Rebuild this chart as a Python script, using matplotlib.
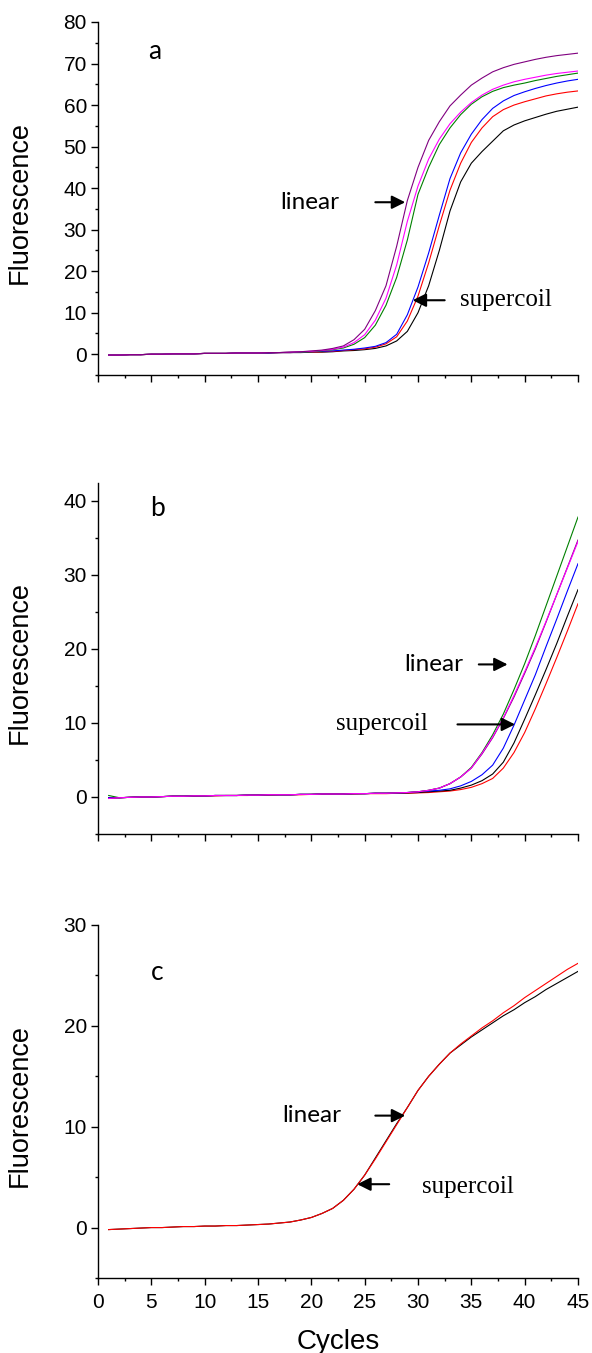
import numpy as np
import matplotlib.pyplot as plt
from matplotlib.ticker import MultipleLocator

plt.rcParams['font.family'] = ['Liberation Sans', 'DejaVu Sans']

cycles = np.arange(1, 46)

# panel a
a_purple = [-0.2, -0.2, -0.1, -0.1, 0.0, 0.0, 0.1, 0.1, 0.1, 0.2, 0.2, 0.2, 0.3, 0.3, 0.3,
            0.4, 0.4, 0.5, 0.6, 0.8, 1.0, 1.4, 2.0, 3.5, 6.0, 10.5, 16.5, 26.0, 37.0, 45.0,
            51.5, 56.0, 59.8, 62.4, 64.8, 66.5, 68.0, 69.0, 69.8, 70.4, 71.0, 71.5, 71.9, 72.2, 72.5]
a_magenta = [-0.2, -0.2, -0.1, -0.1, 0.0, 0.0, 0.1, 0.1, 0.1, 0.2, 0.2, 0.2, 0.3, 0.3, 0.3,
             0.4, 0.4, 0.5, 0.6, 0.7, 0.9, 1.2, 1.7, 2.8, 4.7, 8.2, 13.5, 21.5, 32.0, 40.5,
             47.0, 51.8, 55.5, 58.3, 60.6, 62.4, 63.8, 64.8, 65.6, 66.2, 66.7, 67.2, 67.6, 67.9, 68.2]
a_green = [-0.2, -0.2, -0.1, -0.1, 0.0, 0.0, 0.1, 0.1, 0.1, 0.2, 0.2, 0.2, 0.3, 0.3, 0.3,
           0.4, 0.4, 0.5, 0.5, 0.6, 0.8, 1.1, 1.5, 2.4, 4.0, 7.0, 11.8, 18.5, 27.5, 38.5,
           45.0, 50.5, 54.5, 57.7, 60.2, 62.0, 63.3, 64.2, 64.8, 65.3, 65.9, 66.4, 66.9, 67.3, 67.7]
a_blue = [-0.2, -0.2, -0.1, -0.1, 0.0, 0.0, 0.1, 0.1, 0.1, 0.2, 0.2, 0.2, 0.3, 0.3, 0.3,
          0.3, 0.4, 0.4, 0.5, 0.6, 0.7, 0.8, 1.0, 1.2, 1.5, 1.9, 2.8, 4.8, 9.5, 16.2,
          24.4, 33.5, 42.3, 48.5, 53.0, 56.5, 59.2, 61.0, 62.3, 63.2, 64.0, 64.7, 65.3, 65.8, 66.2]
a_red = [-0.2, -0.2, -0.1, -0.1, 0.0, 0.0, 0.1, 0.1, 0.1, 0.2, 0.2, 0.2, 0.3, 0.3, 0.3,
         0.3, 0.4, 0.4, 0.5, 0.5, 0.6, 0.7, 0.9, 1.1, 1.3, 1.7, 2.5, 4.2, 8.0, 14.0,
         22.0, 31.0, 39.5, 46.0, 51.0, 54.5, 57.2, 58.9, 60.0, 60.8, 61.5, 62.2, 62.7, 63.1, 63.4]
a_black = [-0.2, -0.2, -0.1, -0.1, 0.0, 0.0, 0.1, 0.1, 0.1, 0.2, 0.2, 0.2, 0.3, 0.3, 0.3,
           0.3, 0.4, 0.4, 0.4, 0.5, 0.5, 0.6, 0.8, 0.9, 1.1, 1.4, 2.0, 3.2, 5.5, 10.0,
           16.5, 25.0, 34.5, 41.5, 46.0, 48.8, 51.3, 53.8, 55.2, 56.2, 57.0, 57.8, 58.5, 59.0, 59.5]

# panel b
b_green = [0.2, -0.1, -0.05, 0.0, 0.0, 0.05, 0.1, 0.1, 0.15, 0.15, 0.2, 0.2, 0.2, 0.25, 0.25,
           0.3, 0.3, 0.3, 0.35, 0.35, 0.4, 0.4, 0.4, 0.45, 0.45, 0.5, 0.5, 0.55, 0.6, 0.7,
           0.9, 1.2, 1.8, 2.7, 4.0, 6.0, 8.4, 11.2, 14.5, 18.0, 21.8, 25.8, 29.8, 33.8, 37.8]
b_purple = [-0.2, -0.1, -0.05, 0.0, 0.0, 0.05, 0.1, 0.1, 0.15, 0.15, 0.2, 0.2, 0.2, 0.25, 0.25,
            0.3, 0.3, 0.3, 0.35, 0.35, 0.4, 0.4, 0.4, 0.45, 0.45, 0.5, 0.5, 0.55, 0.6, 0.7,
            0.9, 1.2, 1.8, 2.7, 3.9, 5.8, 8.0, 10.6, 13.5, 16.7, 20.0, 23.6, 27.3, 31.0, 34.7]
b_magenta = [-0.2, -0.1, -0.05, 0.0, 0.0, 0.05, 0.1, 0.1, 0.15, 0.15, 0.2, 0.2, 0.2, 0.25, 0.25,
             0.3, 0.3, 0.3, 0.35, 0.35, 0.4, 0.4, 0.4, 0.45, 0.45, 0.5, 0.5, 0.55, 0.6, 0.7,
             0.9, 1.2, 1.8, 2.7, 3.9, 5.9, 8.1, 10.7, 13.7, 16.9, 20.2, 23.7, 27.3, 30.9, 34.5]
b_blue = [-0.1, -0.1, -0.05, 0.0, 0.0, 0.05, 0.1, 0.1, 0.15, 0.15, 0.2, 0.2, 0.2, 0.25, 0.25,
          0.3, 0.3, 0.3, 0.35, 0.35, 0.4, 0.4, 0.4, 0.45, 0.45, 0.5, 0.5, 0.55, 0.6, 0.7,
          0.8, 0.9, 1.1, 1.5, 2.1, 3.0, 4.3, 6.6, 9.7, 13.1, 16.5, 20.3, 24.0, 27.8, 31.5]
b_black = [-0.1, -0.1, -0.05, 0.0, 0.0, 0.05, 0.1, 0.1, 0.15, 0.15, 0.2, 0.2, 0.2, 0.25, 0.25,
           0.3, 0.3, 0.3, 0.35, 0.35, 0.4, 0.4, 0.4, 0.45, 0.45, 0.5, 0.5, 0.5, 0.55, 0.6,
           0.7, 0.8, 0.9, 1.2, 1.6, 2.2, 3.1, 4.7, 7.3, 10.5, 13.8, 17.2, 20.7, 24.4, 28.0]
b_red = [-0.1, -0.1, -0.05, 0.0, 0.0, 0.05, 0.1, 0.1, 0.1, 0.15, 0.15, 0.2, 0.2, 0.2, 0.25,
         0.25, 0.3, 0.3, 0.3, 0.35, 0.35, 0.4, 0.4, 0.4, 0.45, 0.45, 0.45, 0.5, 0.5, 0.55,
         0.6, 0.7, 0.8, 1.0, 1.3, 1.8, 2.5, 3.9, 6.0, 8.7, 11.9, 15.3, 18.8, 22.4, 26.1]

# panel c
c_black = [-0.2, -0.15, -0.1, -0.05, 0.0, 0.0, 0.05, 0.1, 0.1, 0.15, 0.15, 0.2, 0.2, 0.25, 0.3,
           0.35, 0.45, 0.55, 0.75, 1.0, 1.4, 1.9, 2.7, 3.8, 5.2, 6.9, 8.6, 10.3, 11.9, 13.6,
           15.0, 16.2, 17.3, 18.1, 18.9, 19.6, 20.3, 21.0, 21.6, 22.3, 22.9, 23.6, 24.2, 24.8, 25.4]
c_red = [-0.2, -0.15, -0.1, -0.05, 0.0, 0.0, 0.05, 0.1, 0.1, 0.15, 0.15, 0.2, 0.2, 0.25, 0.3,
         0.35, 0.45, 0.55, 0.75, 1.0, 1.4, 1.9, 2.7, 3.8, 5.2, 6.8, 8.5, 10.2, 11.9, 13.6,
         15.0, 16.2, 17.3, 18.2, 19.0, 19.8, 20.5, 21.3, 22.0, 22.8, 23.5, 24.2, 24.9, 25.6, 26.2]

panels = [
    {
        "letter": "a", "ylim": (-5, 80), "letter_pos": (4.7, 72.8),
        "lines": [(a_black, "black"), (a_red, "red"), (a_blue, "blue"),
                  (a_green, "green"), (a_magenta, "magenta"), (a_purple, "purple")],
        "linear": (17.1, 36.6, 26.0, 28.8),
        "supercoil": (33.9, 13.0, 32.5, 29.5, 13.0),
    },
    {
        "letter": "b", "ylim": (-5, 42.4), "letter_pos": (4.9, 39.0),
        "lines": [(b_red, "red"), (b_black, "black"), (b_blue, "blue"),
                  (b_green, "green"), (b_purple, "purple"), (b_magenta, "magenta")],
        "linear": (28.7, 17.9, 35.7, 38.4),
        "supercoil": (22.3, 9.8, 33.7, 39.1, 9.8),
    },
    {
        "letter": "c", "ylim": (-5, 30), "letter_pos": (5.0, 25.3),
        "lines": [(c_black, "black"), (c_red, "red")],
        "linear": (17.3, 11.1, 26.0, 28.8),
        "supercoil": (30.4, 4.0, 27.3, 24.3, 4.3),
    },
]

fig = plt.figure(figsize=(5.92, 13.53), dpi=100)
W, H = 592, 1353
boxes = [(22, 375), (483, 834), (925, 1278)]

arrow_kw = dict(arrowstyle="-|>", color="black", lw=1.5, mutation_scale=20,
                shrinkA=0, shrinkB=0)

for i, (p, (top, bottom)) in enumerate(zip(panels, boxes)):
    ax = fig.add_axes([98 / W, 1 - bottom / H, 480 / W, (bottom - top) / H])
    for vals, col in p["lines"]:
        ax.plot(cycles, vals, color=col, lw=0.8)

    ax.set_xlim(0, 45)
    ax.set_ylim(*p["ylim"])
    ax.xaxis.set_major_locator(MultipleLocator(5))
    ax.xaxis.set_minor_locator(MultipleLocator(2.5))
    ax.yaxis.set_major_locator(MultipleLocator(10))
    ax.yaxis.set_minor_locator(MultipleLocator(5))
    ax.spines["top"].set_visible(False)
    ax.spines["right"].set_visible(False)
    for s in ("left", "bottom"):
        ax.spines[s].set_linewidth(1.0)
    ax.tick_params(which="major", direction="out", length=5, width=1, labelsize=15, pad=3)
    ax.tick_params(which="minor", direction="out", length=2.5, width=1)
    ax.tick_params(axis="x", which="major", pad=6)

    ax.set_ylabel("Fluorescence", fontsize=19.5)
    ax.yaxis.set_label_coords(-0.135, 0.49)

    if i < 2:
        ax.tick_params(axis="x", labelbottom=False)
    else:
        ax.set_xlabel("Cycles", fontsize=20, labelpad=12)

    ax.text(*p["letter_pos"], p["letter"], fontsize=19, family=["Lato", "DejaVu Sans"],
            ha="left", va="center")

    tx, ty, ax0, ax1 = p["linear"]
    ax.text(tx, ty, "linear", fontsize=17.5, family=["Lato", "DejaVu Sans"],
            ha="left", va="center")
    ax.annotate("", xy=(ax1, ty), xytext=(ax0, ty), arrowprops=arrow_kw)

    tx, ty, ax0, ax1, ay = p["supercoil"]
    ax.text(tx, ty, "supercoil", fontsize=18, family=["Liberation Serif", "DejaVu Serif"],
            ha="left", va="center")
    ax.annotate("", xy=(ax1, ay), xytext=(ax0, ay), arrowprops=arrow_kw)

fig.savefig("out.png", dpi=100)
